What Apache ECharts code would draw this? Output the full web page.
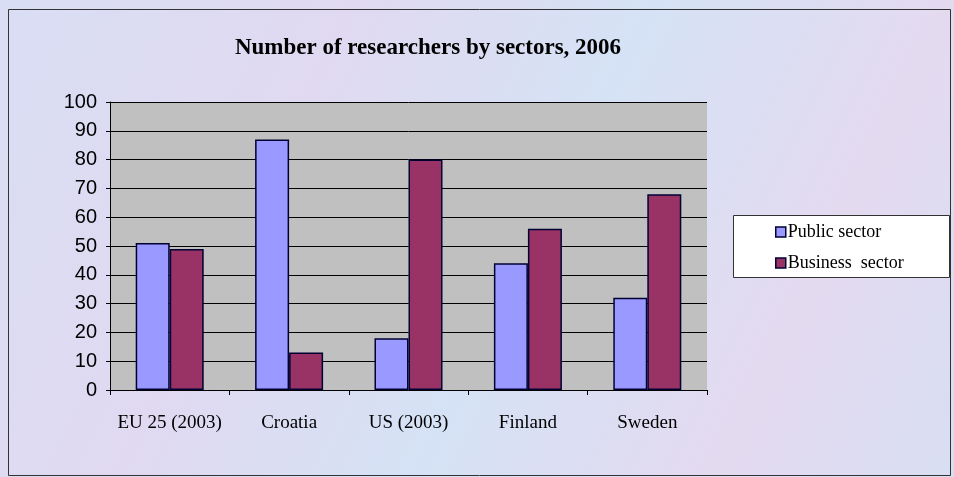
<!DOCTYPE html>
<html>
<head>
<meta charset="utf-8">
<script src="https://cdn.jsdelivr.net/npm/echarts@6/dist/echarts.min.js"></script>
<style>
html,body{margin:0;padding:0;}
#c{width:954px;height:477px;}
</style>
</head>
<body>
<div id="c"></div>
<script>
const categories = ['EU 25 (2003)', 'Croatia', 'US (2003)', 'Finland', 'Sweden'];
const publicSector = [51, 87, 18, 44, 32];
const businessSector = [49, 13, 80, 56, 68];
const seriesNames = ['Public sector', 'Business  sector'];
const titleText = 'Number of researchers by sectors, 2006';

const chart = echarts.init(document.getElementById('c'));
chart.setOption({
  backgroundColor: {
    type: 'linear', x: 0, y: 0, x2: 1, y2: 1,
    colorStops: [
      {offset: 0, color: '#d9def4'},
      {offset: 0.3, color: '#e0d9f1'},
      {offset: 0.55, color: '#d5e2f5'},
      {offset: 0.8, color: '#e4daf0'},
      {offset: 1, color: '#d8def3'}
    ]
  },
  animation: false,
  graphic: [
    {type: 'rect', left: 6, top: 7, shape: {width: 942, height: 466},
     style: {fill: 'none', stroke: '#333', lineWidth: 1}, silent: true},
    {type: 'rect', left: 733, top: 215, z: 0, shape: {width: 216, height: 62},
     style: {fill: '#ffffff', stroke: '#333', lineWidth: 1}, silent: true}
  ],
  title: {
    text: titleText, left: 423, top: 32, textAlign: 'center',
    textStyle: {fontFamily: 'Liberation Serif', fontWeight: 'bold', fontSize: 23, color: '#000'}
  },
  legend: {
    orient: 'vertical', left: 775, top: 223, z: 5,
    padding: 0,
    itemGap: 13,
    itemWidth: 10, itemHeight: 10,
    icon: 'rect',
    itemStyle: {borderColor: '#000033', borderWidth: 1.5},
    textStyle: {fontFamily: 'Liberation Serif', fontSize: 18, color: '#000', padding: [0, 0, 0, -3]},
    data: seriesNames
  },
  grid: {left: 110, right: 247, top: 102, bottom: 87, show: true, backgroundColor: '#c0c0c0', borderWidth: 0},
  xAxis: {
    type: 'category', data: categories,
    axisLine: {lineStyle: {color: '#000', width: 1}},
    axisTick: {show: true, interval: 0, length: 5, lineStyle: {color: '#000'}},
    axisLabel: {interval: 0, fontFamily: 'Liberation Serif', fontSize: 19, color: '#000', margin: 24}
  },
  yAxis: {
    type: 'value', min: 0, max: 100, interval: 10,
    axisLine: {show: true, lineStyle: {color: '#000', width: 1}},
    axisTick: {show: true, length: 4, lineStyle: {color: '#000'}},
    splitLine: {lineStyle: {color: '#000', width: 1}},
    axisLabel: {fontFamily: 'Liberation Sans', fontSize: 20, color: '#000', margin: 13}
  },
  series: [
    {name: seriesNames[0], type: 'bar', data: publicSector, barWidth: 34, barGap: '0%',
     itemStyle: {color: '#9999ff', borderColor: '#000033', borderWidth: 1.5}},
    {name: seriesNames[1], type: 'bar', data: businessSector, barWidth: 34, barGap: '0%',
     itemStyle: {color: '#993366', borderColor: '#000033', borderWidth: 1.5}}
  ]
});
</script>
</body>
</html>
